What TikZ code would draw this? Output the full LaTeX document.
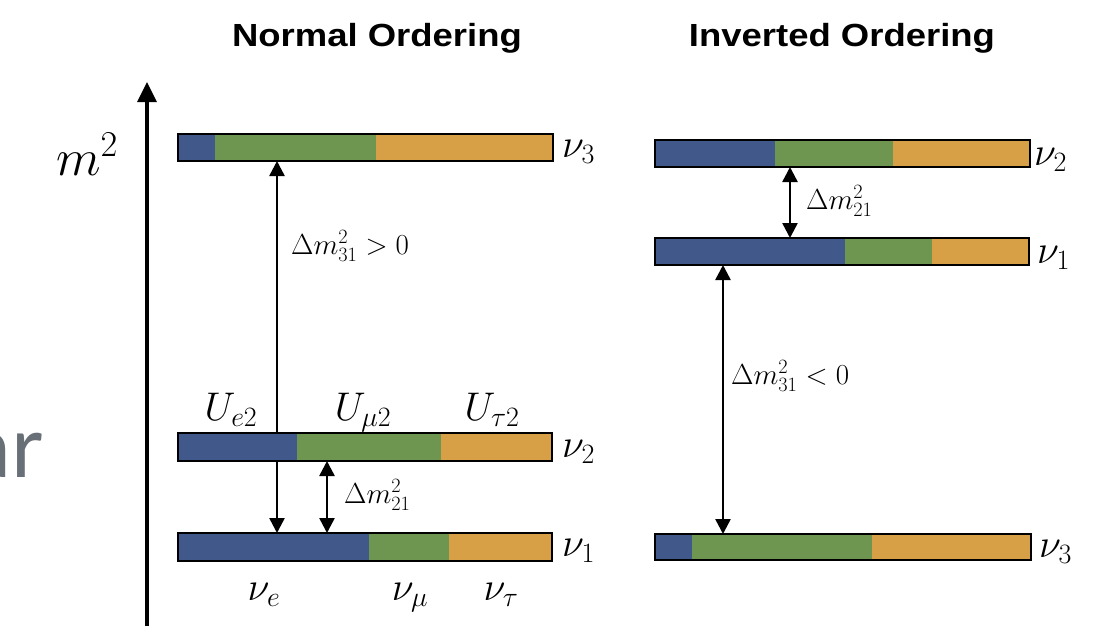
\documentclass[tikz,border=0pt]{standalone}
\usepackage{fix-cm}
\usepackage{fontspec}
\setmainfont{Liberation Serif}
\newfontfamily\titlefont{Liberation Sans}
\newfontfamily\thinfont{Lato}
\usetikzlibrary{arrows.meta,backgrounds}
\definecolor{cblue}{RGB}{64,88,138}
\definecolor{cgreen}{RGB}{110,150,80}
\definecolor{corange}{RGB}{216,160,70}
\definecolor{cgrayt}{RGB}{105,111,119}
\tikzset{
  barframe/.style={draw=black, line width=2.8pt, rectangle, inner sep=0pt, outer sep=0pt},
  gaparrow/.style={{Triangle[length=15pt,width=15pt]}-{Triangle[length=15pt,width=15pt]}, line width=2.5pt},
  axisarrow/.style={-{Triangle[length=20pt,width=19pt]}, line width=3.2pt},
  biglab/.style={anchor=base west, inner sep=0pt, font=\fontsize{40}{48}\selectfont},
  biglabc/.style={anchor=base, inner sep=0pt, font=\fontsize{40}{48}\selectfont},
  dlab/.style={anchor=base west, inner sep=0pt, font=\fontsize{29}{34}\selectfont},
  titlelab/.style={anchor=base, inner sep=0pt, font=\titlefont\bfseries\fontsize{32}{38}\selectfont},
}
\newcommand{\levelbar}[7]{%
  \fill[cblue] (#2,#3) rectangle (#6,#5);
  \fill[cgreen] (#6,#3) rectangle (#7,#5);
  \fill[corange] (#7,#3) rectangle (#4,#5);
  \node[barframe, minimum width={(#4-#2)*1pt}, minimum height={(#5-#3)*1pt}] (#1) at ({(#2+#4)/2},{(#3+#5)/2}) {};
}
\begin{document}
\begin{tikzpicture}[x=1pt,y=-1pt]
\useasboundingbox (0,0) rectangle (1097,625);
\clip (0,0) rectangle (1097,625);

% titles
\node[titlelab] (tno) at (377,46) {\scalebox{1.14}[1]{Normal Ordering}};
\node[titlelab] (tio) at (842,46) {\scalebox{1.14}[1]{Inverted Ordering}};

% fragment text at left
\node[anchor=base east, inner sep=0pt, text=cgrayt, font=\thinfont\fontsize{86}{90}\selectfont] (frag) at (43,477) {ar};

% axis
\coordinate (axb) at (147,640);
\coordinate (axt) at (147,82);
\draw[axisarrow] (axb) -- (axt);
\node[anchor=base west, inner sep=0pt, font=\fontsize{52}{60}\selectfont] (m2) at (56,175) {$m^2$};

% Normal ordering bars
\levelbar{nthree}{178}{134}{553}{161}{215}{376}
\levelbar{ntwo}{178}{433}{552}{461}{297}{441}
\levelbar{none}{178}{533}{552}{561}{369}{449}

% Inverted ordering bars
\levelbar{itwo}{655}{140}{1030}{167}{775}{893}
\levelbar{ione}{655}{238}{1029}{265}{845}{932}
\levelbar{ithree}{655}{534}{1031}{560}{692}{872}

% gap arrows (behind bars)
\coordinate (xn31) at (277,0);
\coordinate (xn21) at (327,0);
\coordinate (xi21) at (790,0);
\coordinate (xi31) at (723,0);
\begin{scope}[on background layer]
\draw[gaparrow] (none.north -| xn31) -- (nthree.south -| xn31);
\end{scope}
\draw[gaparrow] (none.north -| xn21) -- (ntwo.south -| xn21);
\draw[gaparrow] (ione.north -| xi21) -- (itwo.south -| xi21);
\draw[gaparrow] (ithree.north -| xi31) -- (ione.south -| xi31);

% gap labels
\node[dlab] (l31n) at (291,254) {$\Delta m^2_{31} > 0$};
\node[dlab] (l21n) at (344,503) {$\Delta m^2_{21}$};
\node[dlab] (l21i) at (806,209) {$\Delta m^2_{21}$};
\node[dlab] (l31i) at (731,384) {$\Delta m^2_{31} < 0$};

% level labels
\node[biglab] (lnthree) at (562,157) {$\nu_3$};
\node[biglab] (lntwo) at (562,457) {$\nu_2$};
\node[biglab] (lnone) at (562,556) {$\nu_1$};
\node[biglab] (litwo) at (1034,165) {$\nu_2$};
\node[biglab] (lione) at (1037,263) {$\nu_1$};
\node[biglab] (lithree) at (1039,557) {$\nu_3$};

% mixing labels
\node[biglabc] (ue) at (231,420) {$U_{e2}$};
\node[biglabc] (umu) at (363,420) {$U_{\mu 2}$};
\node[biglabc] (utau) at (492,420) {$U_{\tau 2}$};
\node[biglabc] (fe) at (264,600) {$\nu_e$};
\node[biglabc] (fmu) at (410,600) {$\nu_\mu$};
\node[biglabc] (ftau) at (501,600) {$\nu_\tau$};
\end{tikzpicture}
\end{document}
